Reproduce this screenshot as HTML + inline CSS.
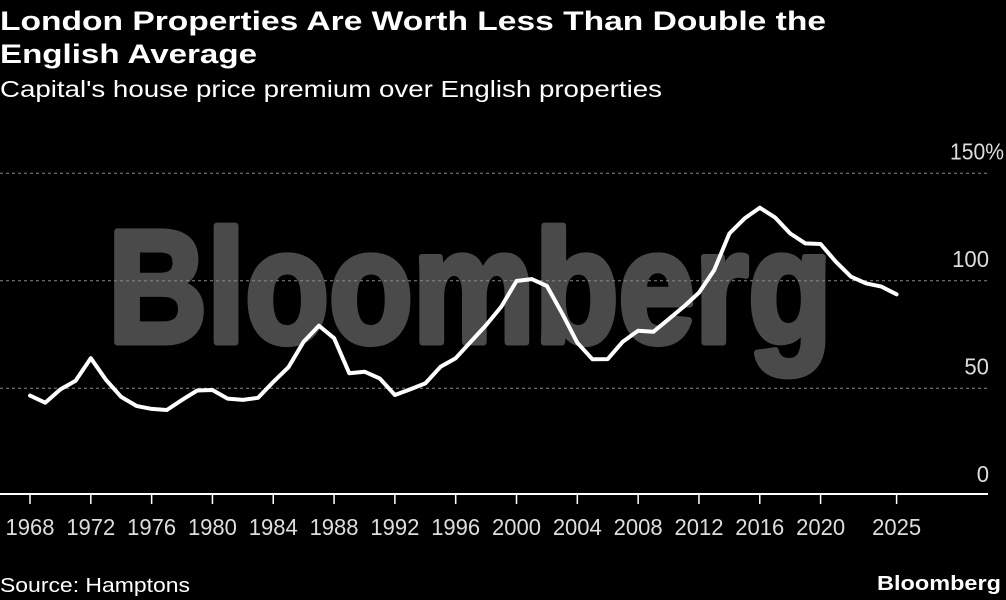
<!DOCTYPE html>
<html><head><meta charset="utf-8"><style>
html,body{margin:0;padding:0;background:#000;}
svg{display:block;font-family:"Liberation Sans",sans-serif;}
</style></head><body>
<svg id="chart" width="1006" height="600" viewBox="0 0 1006 600" xmlns="http://www.w3.org/2000/svg">
<rect width="1006" height="600" fill="#000"/>
<text x="0" y="30" fill="#fff" font-weight="bold" font-size="27" textLength="826" lengthAdjust="spacingAndGlyphs">London Properties Are Worth Less Than Double the</text>
<text x="0" y="63" fill="#fff" font-weight="bold" font-size="27" textLength="257" lengthAdjust="spacingAndGlyphs">English Average</text>
<text x="0" y="97" fill="#fff" font-size="23" textLength="662" lengthAdjust="spacingAndGlyphs">Capital's house price premium over English properties</text>
<text x="108" y="342" fill="#4a4a4a" stroke="#4a4a4a" stroke-width="7" stroke-linejoin="round" font-weight="bold" font-size="160" textLength="724" lengthAdjust="spacingAndGlyphs">Bloomberg</text>
<g id="grid"></g>
<g id="xaxis"></g>
<path id="line" fill="none" stroke="#fff" stroke-width="4" stroke-linejoin="round" stroke-linecap="round"/>
<text x="0" y="592" fill="#fff" font-size="20" textLength="190" lengthAdjust="spacingAndGlyphs">Source: Hamptons</text>
<text x="1001" y="590" fill="#fff" font-weight="bold" font-size="20" text-anchor="end" textLength="124" lengthAdjust="spacingAndGlyphs">Bloomberg</text>
</svg>
<script>
const years = [1968,1969,1970,1971,1972,1973,1974,1975,1976,1977,1978,1979,1980,1981,1982,1983,1984,1985,1986,1987,1988,1989,1990,1991,1992,1993,1994,1995,1996,1997,1998,1999,2000,2001,2002,2003,2004,2005,2006,2007,2008,2009,2010,2011,2012,2013,2014,2015,2016,2017,2018,2019,2020,2021,2022,2023,2024,2025];
const premium = [46.6,43.3,49.5,53.5,64,53.9,46,41.8,40.4,39.9,44.6,49,49.2,45.2,44.6,45.6,53,59.8,71.7,79.1,73.3,57,57.7,54.6,46.9,49.5,52.3,60,64,71.7,79.4,88,99.9,100.8,97.6,84.9,71.2,63.5,63.6,71.7,76.8,76.3,82.1,88,94.5,105,122,129,134,129.5,122,117.4,117.1,108.9,101.9,98.8,97.3,93.7];
const yTicks = [0,50,100,150];
const yTickLabels = ["0","50","100","150%"];
const xTicks = [1968,1972,1976,1980,1984,1988,1992,1996,2000,2004,2008,2012,2016,2020,2025];

const NS="http://www.w3.org/2000/svg";
function xScale(yr){return 30+(yr-1968)*(896.6-30)/(2025-1968);}
function yScale(v){return 495.8-v*(495.8-173.3)/150;}

const grid=document.getElementById('grid');
yTicks.forEach((t,i)=>{
  if(t>0){
    const l=document.createElementNS(NS,'line');
    
    
    l.setAttribute('x1',0);l.setAttribute('x2',990);
    l.setAttribute('y1',yScale(t));l.setAttribute('y2',yScale(t));
    l.setAttribute('stroke','#888');l.setAttribute('stroke-width','1');l.setAttribute('stroke-dasharray','3,3');
    grid.appendChild(l);
  }
  const lab=yTickLabels[i];
  const pct=lab.indexOf('%')>=0;
  const tx=document.createElementNS(NS,'text');
  
  
  tx.setAttribute('x',pct?1004:989);tx.setAttribute('y',yScale(t)-14);
  tx.setAttribute('text-anchor','end');tx.setAttribute('fill','#ddd');tx.setAttribute('font-size','23');
  tx.setAttribute('textLength',pct?54:lab.length*12.3);
  tx.setAttribute('lengthAdjust','spacingAndGlyphs');
  tx.textContent=lab;
  grid.appendChild(tx);
});

const xa=document.getElementById('xaxis');
const ax=document.createElementNS(NS,'line');


ax.setAttribute('x1',0);ax.setAttribute('x2',988);ax.setAttribute('y1',494);ax.setAttribute('y2',494);
ax.setAttribute('stroke','#fff');ax.setAttribute('stroke-width','2');
xa.appendChild(ax);
xTicks.forEach(yr=>{
  const x=xScale(yr);
  const tk=document.createElementNS(NS,'line');
  
  
  tk.setAttribute('x1',x);tk.setAttribute('x2',x);tk.setAttribute('y1',494);tk.setAttribute('y2',504);
  tk.setAttribute('stroke','#fff');tk.setAttribute('stroke-width','1.5');
  xa.appendChild(tk);
  const tx=document.createElementNS(NS,'text');
  
  
  tx.setAttribute('x',x);tx.setAttribute('y',535);tx.setAttribute('text-anchor','middle');
  tx.setAttribute('fill','#ddd');tx.setAttribute('font-size','23');
  tx.setAttribute('textLength','49');tx.setAttribute('lengthAdjust','spacingAndGlyphs');
  tx.textContent=String(yr);
  xa.appendChild(tx);
});

document.getElementById('line').setAttribute('d',
  years.map((yr,i)=>(i?'L':'M')+xScale(yr).toFixed(1)+','+yScale(premium[i]).toFixed(1)).join(' '));
</script>
</body></html>
